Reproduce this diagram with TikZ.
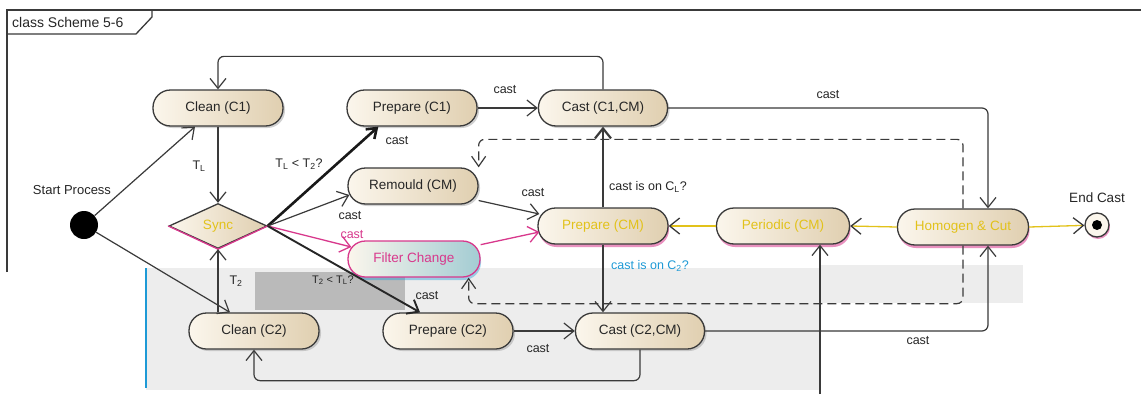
\documentclass[tikz,border=0pt]{standalone}
\usepackage{fontspec}
\setmainfont{Liberation Sans}
\usetikzlibrary{arrows.meta,shapes.geometric,shadows,calc}
\definecolor{ln}{HTML}{3A3A3A}
\definecolor{fillL}{HTML}{FBF6EC}
\definecolor{fillR}{HTML}{E0CFB0}
\definecolor{pinkc}{HTML}{D8388C}
\definecolor{yelc}{HTML}{E2C21A}
\definecolor{bluec}{HTML}{1E9AD6}
\definecolor{txt}{HTML}{262626}
\definecolor{filtR}{HTML}{A3CCD3}
\newcommand\dgnodefont{\fontsize{13.5}{16}\selectfont}
\newcommand\dglabfont{\fontsize{12.5}{15}\selectfont}
\begin{document}
\begin{tikzpicture}[x=1pt,y=-1pt,
  base/.style={draw=ln, line width=1.3pt, rounded corners=17.5pt, minimum width=130pt,
    minimum height=36pt, inner sep=2pt, left color=fillL, right color=fillR,
    font=\dgnodefont, text=txt},
  act/.style={base, drop shadow={shadow xshift=2pt,shadow yshift=-2pt,fill=black!40,opacity=0.45}},
  actp/.style={base, text=yelc, drop shadow={shadow xshift=1pt,shadow yshift=-3pt,fill=pinkc,opacity=0.55}},
  con/.style={draw=ln, line width=1.2pt, -{Straight Barb[length=10pt,width=16pt]}},
  thk/.style={draw=black!90, line width=2.6pt, -{Straight Barb[length=9pt,width=13pt]}},
  yl/.style={draw=yelc, line width=1.3pt, -{Straight Barb[length=10pt,width=16pt,color=ln]}},
  pk/.style={draw=pinkc, line width=1.3pt, -{Straight Barb[length=10pt,width=16pt]}},
  dsh/.style={draw=ln, line width=1.2pt, dash pattern=on 9pt off 5pt, rounded corners=6pt,
    -{Straight Barb[length=10pt,width=14pt]}},
  lab/.style={font=\dglabfont, text=txt, inner sep=1pt},
  rc/.style={rounded corners=6pt}
]
\useasboundingbox (0,0) rectangle (1141,394);
\clip (0,0) rectangle (1141,394);
\fill[white] (0,0) rectangle (1141,394);

% background patches
\fill[black!7] (146,268) rectangle (820,390);
\fill[black!27] (255,272) rectangle (405,310);
\fill[black!7] (820,265) rectangle (1023,303);
\draw[bluec, line width=1.2pt] (146,268) -- (146,388);

% frame
\draw[ln, line width=1.3pt] (7,272) -- (7,10) -- (1150,10);
\draw[ln, line width=1.3pt] (7,34) -- (136,34) -- (152,17) -- (152,10);
\node[anchor=west, font=\fontsize{14}{16}\selectfont, text=txt, inner sep=0] (title) at (12,22) {class Scheme 5-6};

% nodes
\node[act] (clean1) at (218,108) {Clean (C1)};
\node[act] (prep1) at (412,108) {Prepare (C1)};
\node[act, minimum width=129pt] (cast1) at (603,108) {Cast (C1,CM)};
\node[act] (rem) at (413,186) {Remould (CM)};
\node[actp] (prepcm) at (603,226) {Prepare (CM)};
\node[actp, minimum width=133pt] (per) at (783,226) {Periodic (CM)};
\node[actp, minimum width=131pt] (hom) at (963,227) {Homogen \& Cut};
\node[base, minimum width=132pt, draw=pinkc, text=pinkc, right color=filtR,
  drop shadow={shadow xshift=1pt,shadow yshift=-3pt,fill=bluec,opacity=0.4}] (filt) at (414,259) {Filter Change};
\node[act] (clean2) at (254,331) {Clean (C2)};
\node[act] (prep2) at (448,331) {Prepare (C2)};
\node[act, minimum width=129pt] (cast2) at (640,331) {Cast (C2,CM)};
\node[diamond, draw=ln, line width=1.3pt, left color=fillL, right color=fillR,
  minimum width=98pt, minimum height=45pt, inner sep=0pt, aspect=2.2,
  font=\dgnodefont, text=yelc] (sync) at (218,226) {Sync};
\draw[pinkc, line width=1.3pt] (sync.west) -- (sync.south) -- (sync.east);
\node[circle, fill=black, minimum size=28pt, inner sep=0] (start) at (84,225) {};
\node[circle, draw=ln, line width=1.3pt, fill=fillL, minimum size=24pt, inner sep=0,
  drop shadow={shadow xshift=1pt,shadow yshift=-2pt,fill=pinkc,opacity=0.55}] (end) at (1097,225) {};
\node[circle, fill=black, minimum size=10pt, inner sep=0] (enddot) at (end.center) {};

\node[font=\fontsize{13}{15}\selectfont, text=txt] (lstart) at (72,190) {Start Process};
\node[font=\fontsize{13.5}{15}\selectfont, text=txt] (lend) at (1097,198) {End Cast};

% connectors
\draw[con] (start) -- ($(clean1.south)+(-23,0)$);
\draw[con] (clean1.south) -- (sync.north);
\draw[thk] (sync.east) -- ($(prep1.south west)+(32,0)$);
\draw[con] (sync.east) -- ($(rem.west)+(2,9)$);
\draw[pk] (sync.east) -- ($(filt.west)+(4,-12)$);
\draw[draw=black!85, line width=1.9pt, -{Straight Barb[length=10pt,width=16pt]}] (sync.east) -- ($(prep2.north)+(-28,0)$);
\draw[con] (clean2.north -| sync.south) -- (sync.south);
\draw[con] (start) -- ($(clean2.north)+(-24,0)$);
\draw[con] (rem) -- ($(prepcm.west)+(2,-12)$);
\draw[pk] (filt) -- ($(prepcm.west)+(2,6)$);
\draw[con] (prep1.east) -- (cast1.west);
\draw[con, line width=2.2pt] (prepcm.north) -- (cast1.south);
\draw[con, rc] (cast1.east) -| ($(hom.north)+(25,0)$);
\draw[con, rc] (cast1.north) -- ++(0,-33) -| (clean1.north);
\draw[yl] (hom.west) -- (per.east);
\draw[yl] (per.west) -- (prepcm.east);
\draw[yl] (hom.east) -- (end);
\draw[dsh] (hom.north) -- ++(0,-69) -| (rem.north east);
\draw[dsh] (hom.south) -- ++(0,58) -| ($(filt.south east)+(-12,0)$);
\draw[con] (prepcm.south) -- (prepcm.south |- cast2.north);
\draw[con] (prep2.east) -- (cast2.west);
\draw[con, rc] (cast2.south) -- ++(0,31) -| (clean2.south);
\draw[con, rc] (cast2.east) -| ($(hom.south)+(25,0)$);
\coordinate (pbot) at (820,394);
\draw[con] (pbot) -- (pbot |- per.south);

% labels
\node[lab] (l1) at (199,166) {T\textsubscript{L}};
\node[lab] (l2) at (299,164) {T\textsubscript{L} < T\textsubscript{2}?};
\node[lab] (l3) at (397,141) {cast};
\node[lab] (l4) at (505,90) {cast};
\node[lab] (l5) at (828,95) {cast};
\node[lab] (l6) at (533,193) {cast};
\node[lab] (l7) at (648,187) {cast is on C\textsubscript{L}?};
\node[lab] (l8) at (350,216) {cast};
\node[lab, text=pinkc] (l9) at (352,235) {cast};
\node[lab] (l10) at (236,281) {T\textsubscript{2}};
\node[lab, font=\fontsize{11}{13}\selectfont] (l11) at (333,280) {T\textsubscript{2} < T\textsubscript{L}?};
\node[lab] (l12) at (427,296) {cast};
\node[lab, text=bluec] (l13) at (650,266) {cast is on C\textsubscript{2}?};
\node[lab] (l14) at (538,349) {cast};
\node[lab] (l15) at (918,341) {cast};
\end{tikzpicture}
\end{document}
